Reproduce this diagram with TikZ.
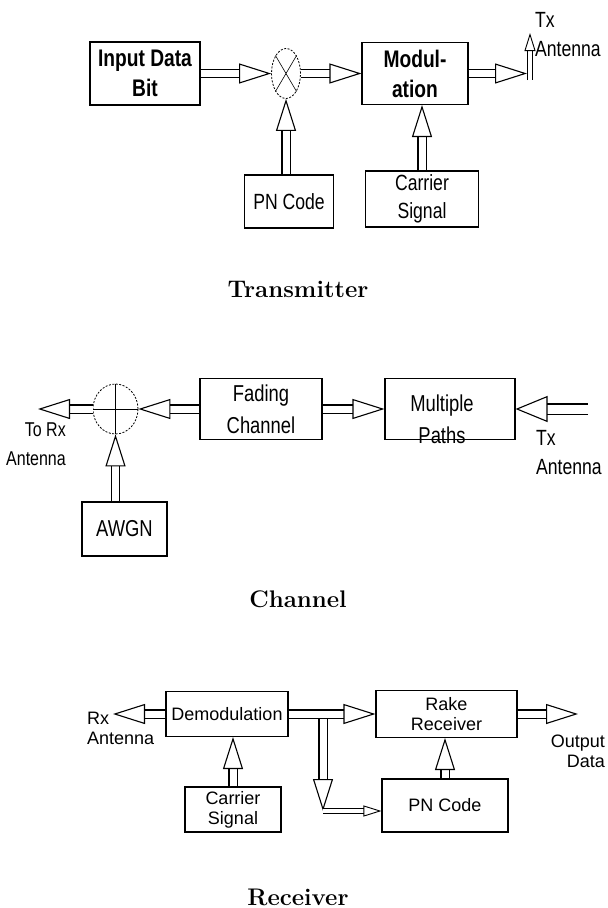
\documentclass[tikz,border=0pt]{standalone}
\usepackage{fontspec}
\usepackage{tikz}
\usetikzlibrary{arrows.meta,positioning,shapes.geometric}
\newfontfamily\boxfont{Liberation Sans}
\newfontfamily\tallfont[FakeStretch=0.8]{Liberation Sans}

\begin{document}
\begin{tikzpicture}[
  x=1pt, y=-1pt,
  block/.style={draw, line width=1.1pt, inner sep=0pt, align=center},
  txblock/.style={block, font=\tallfont\fontsize{22}{28}\selectfont},
  txbold/.style={block, font=\tallfont\bfseries\fontsize{24}{30}\selectfont},
  chblock/.style={block, font=\tallfont\fontsize{23}{32}\selectfont},
  rxblock/.style={block, font=\boxfont\fontsize{18}{20}\selectfont},
  junction/.style={draw, ellipse, inner sep=0pt, line width=0.8pt, dash pattern=on 2pt off 1.5pt},
  tag/.style={inner sep=0pt, font=\tallfont\fontsize{22}{29}\selectfont},
  rxtag/.style={inner sep=0pt, font=\boxfont\fontsize{18}{20}\selectfont},
  flow/.style={draw, line width=1.1pt, double, double distance=7pt,
    -{Triangle[open, length=32pt, width=20pt]}},
  wide flow/.style={flow, double distance=9pt, -{Triangle[open, length=32pt, width=26pt]}},
  slim flow/.style={flow, line width=0.9pt, double distance=4pt, -{Triangle[open, length=18pt, width=11pt]}},
  panel/.style={font=\fontsize{24}{28}\selectfont\bfseries, anchor=base}
]
\useasboundingbox (0,0) rectangle (608,908);

% transmitter
\node[txbold, minimum width=110pt, minimum height=63pt] (input-bit) at (145,73.5) {Input Data\\Bit};
\node[junction, minimum width=29pt, minimum height=50pt] (mixer) at (286,73.5) {};
\draw[line width=0.6pt] (mixer.north west) -- (mixer.south east);
\draw[line width=0.6pt] (mixer.north east) -- (mixer.south west);
\node[txbold, minimum width=106pt, minimum height=62pt] (modulation) at (415,73.5) {Modul-\\ation};
\node[txblock, minimum width=89pt, minimum height=53pt] (tx-pn-code) at (289,201.5) {PN Code};
\node[txblock, minimum width=113pt, minimum height=56pt] (tx-carrier) at (422,199) {Carrier\\Signal};
\coordinate (tx-feed) at (527,73.5);
\coordinate (tx-mast) at (530,80);
\coordinate (tx-top) at (530,33);
\node[tag, anchor=north west, align=left] (tx-antenna) at (535,12) {Tx\\Antenna};
\draw[flow] (input-bit) -- (mixer);
\draw[flow] (mixer) -- (modulation);
\draw[flow] (modulation.east) -- (tx-feed);
\draw[slim flow] (tx-mast) -- (tx-top);
\draw[flow] (mixer |- tx-pn-code.north) -- (mixer.south);
\draw[flow] (tx-carrier.north) -- (tx-carrier.north |- modulation.south);
\node[panel] (tx-title) at (298,297) {Transmitter};

% channel
\node[junction, minimum width=45pt, minimum height=50pt] (adder) at (115.5,409) {};
\draw[line width=0.6pt] (adder.north) -- (adder.south);
\draw[line width=0.6pt] (adder.west) -- (adder.east);
\node[chblock, minimum width=122pt, minimum height=61pt] (fading) at (261,409) {Fading\\Channel};
\node[block, minimum width=130pt, minimum height=61pt] (paths) at (450,409) {};
\node[chblock, draw=none] (paths-text) at (442,419) {Multiple\\Paths};
\node[chblock, minimum width=85pt, minimum height=54pt] (awgn) at (124.5,529) {AWGN};
\coordinate (ch-in) at (588,409);
\coordinate (ch-out) at (38,409);
\node[tag, anchor=north east, align=right, font=\tallfont\fontsize{20}{29}\selectfont] (rx-side) at (66,423) {To Rx\\Antenna};
\node[tag, anchor=north west, align=left] (tx-side) at (536,430) {Tx\\Antenna};
\draw[wide flow] (ch-in) -- (paths);
\draw[flow] (fading) -- (paths);
\draw[flow] (fading) -- (adder);
\draw[flow] (adder) -- (ch-out);
\draw[flow] (adder |- awgn.north) -- (adder.south);
\node[panel] (ch-title) at (298,607) {Channel};

% receiver
\node[rxblock, minimum width=122pt, minimum height=45pt] (demod) at (227,714) {Demodulation};
\node[rxblock, minimum width=141pt, minimum height=47pt] (rake) at (446.5,714) {Rake\\Receiver};
\node[rxblock, minimum width=126pt, minimum height=53pt] (rx-pn-code) at (445,805.5) {PN Code};
\node[rxblock, minimum width=96pt, minimum height=45pt] (rx-carrier) at (233,809.5) {Carrier\\Signal};
\coordinate (rx-out) at (113,714);
\coordinate (data-out) at (578,714);
\coordinate (split) at (323,714);
\coordinate (corner) at (323,811);
\node[rxtag, anchor=north west, align=left] (rx-antenna) at (87,712) {Rx\\Antenna};
\node[rxtag, anchor=north east, align=right] (output) at (605,735) {Output\\Data};
\draw[flow] (demod) -- (rx-out);
\draw[flow] (split) -- (corner);
\draw[flow] (demod) -- (rake);
\draw[slim flow] (corner) -- (rx-pn-code.west |- corner);
\draw[flow] (rx-pn-code.north) -- (rx-pn-code.north |- rake.south);
\draw[flow] (rx-carrier.north) -- (rx-carrier.north |- demod.south);
\draw[flow] (rake) -- (data-out);
\node[panel] (rx-title) at (298,905) {Receiver};
\end{tikzpicture}
\end{document}
